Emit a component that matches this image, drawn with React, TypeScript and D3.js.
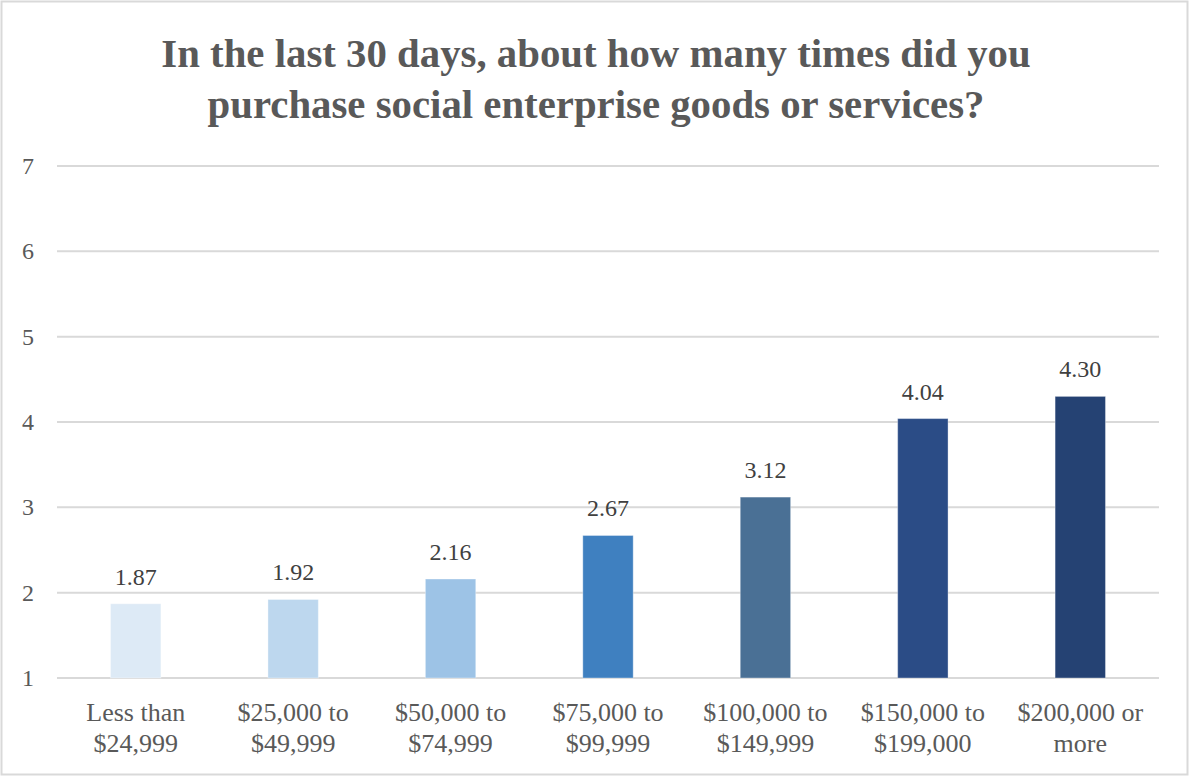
import React from "react";
import * as d3 from "d3";

const categories: string[][] = [
  ["Less than", "$24,999"],
  ["$25,000 to", "$49,999"],
  ["$50,000 to", "$74,999"],
  ["$75,000 to", "$99,999"],
  ["$100,000 to", "$149,999"],
  ["$150,000 to", "$199,000"],
  ["$200,000 or", "more"],
];
const values: number[] = [1.87, 1.92, 2.16, 2.67, 3.12, 4.04, 4.3];
const barColors: string[] = ["#DDEAF6", "#BDD7EE", "#9DC3E6", "#3F80C0", "#4A7095", "#2B4C86", "#254273"];
const yTicks: number[] = [1, 2, 3, 4, 5, 6, 7];
const titleLines: string[] = [
  "In the last 30 days, about how many times did you",
  "purchase social enterprise goods or services?",
];

const W = 1191;
const H = 777;
const left = 57;
const right = 1159;
const top = 166;
const bottom = 678;
const font = "'Liberation Serif', 'Times New Roman', serif";

export default function App() {
  const x = d3
    .scaleBand<number>()
    .domain(d3.range(categories.length))
    .range([left, right])
    .paddingInner(0.68)
    .paddingOuter(0.34);
  const y = d3.scaleLinear().domain([1, 7]).range([bottom, top]);

  return (
    <svg width={W} height={H} style={{ position: "absolute", left: 0, top: 0 }}>
      <rect x={0} y={0} width={W} height={H} fill="#ffffff" />
      <rect x={1.5} y={1.5} width={1186} height={773} fill="none" stroke="#d9d9d9" strokeWidth={2} />
      {titleLines.map((t, i) => (
        <text
          key={i}
          x={596}
          y={67 + i * 51}
          textAnchor="middle"
          fontFamily={font}
          fontWeight="bold"
          fontSize={40.8}
          fill="#595959"
        >
          {t}
        </text>
      ))}
      {yTicks.map((t) => (
        <g key={t}>
          <line x1={left} x2={right} y1={y(t)} y2={y(t)} stroke="#d9d9d9" strokeWidth={2} />
          <text x={34} y={y(t) + 8} textAnchor="end" fontFamily={font} fontSize={24} fill="#595959">
            {t}
          </text>
        </g>
      ))}
      {values.map((v, i) => {
        const bx = x(i)!;
        const bw = x.bandwidth();
        return (
          <g key={i}>
            <rect
              x={bx}
              y={y(v)}
              width={bw}
              height={y(1) - y(v)}
              fill={barColors[i]}
              stroke="#ffffff"
              strokeOpacity={0.35}
              strokeWidth={1}
            />
            <text
              x={bx + bw / 2}
              y={y(v) - 19}
              textAnchor="middle"
              fontFamily={font}
              fontSize={24}
              fill="#404040"
            >
              {v.toFixed(2)}
            </text>
            {categories[i].map((line, j) => (
              <text
                key={j}
                x={bx + bw / 2}
                y={721 + j * 31}
                textAnchor="middle"
                fontFamily={font}
                fontSize={26}
                fill="#595959"
              >
                {line}
              </text>
            ))}
          </g>
        );
      })}
    </svg>
  );
}
